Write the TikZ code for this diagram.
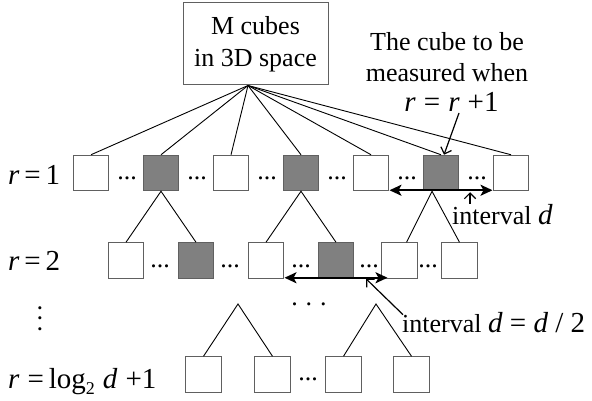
\documentclass[tikz,border=0pt]{standalone}
\usepackage{fontspec}
\setmainfont{Liberation Serif}
\usetikzlibrary{arrows.meta}
\definecolor{cubeedge}{HTML}{606060}
\definecolor{cubefill}{HTML}{808080}
\newcommand\txtsize{\fontsize{26}{31.5}\selectfont}
\newcommand\eqsize{\fontsize{29}{33}\selectfont}
\newcommand\mv[1]{\textit{#1}}
\tikzset{
  cube/.style={draw=cubeedge, fill=white, line width=1pt, minimum size=35.5pt, inner sep=0pt},
  cubedark/.style={cube, fill=cubefill},
  branch/.style={line width=0.9pt},
  intervalarrow/.style={line width=2.2pt, {Stealth[length=12pt,width=11pt,inset=3pt]}-{Stealth[length=12pt,width=11pt,inset=3pt]}},
  pointer/.style={line width=1.2pt, -{Straight Barb[angle=90:8pt]}},
  dotsgap/.style={font=\txtsize, inner sep=0pt, anchor=base},
  rowlabel/.style={font=\eqsize, inner sep=0pt, anchor=base west}
}
\begin{document}
\begin{tikzpicture}[x=1pt,y=-1pt]
\useasboundingbox (0,0) rectangle (592,401);
\node[draw=cubeedge, line width=1pt, minimum width=145pt, minimum height=82pt, align=center, font=\txtsize] (mbox) at (255.5,44) {M cubes\\in 3D space};
\node[font=\txtsize, align=center, anchor=north, inner sep=0pt] (note) at (447,32) {The cube to be\\measured when};
\node[font=\eqsize, inner sep=0pt, anchor=base] (noteeq) at (451.5,112) {\mv{r}\;=\;\mv{r}\;+1};
\coordinate (root) at ([xshift=-7.5pt]mbox.south);
\node[rowlabel] (r1) at (8,185) {\mv{r}\,=\,1};
\node[rowlabel] (r2) at (8,270) {\mv{r}\,=\,2};
\node[font=\txtsize, inner sep=0pt, rotate=90] (rdots) at (40,318.5) {.\hspace{4pt}.\hspace{4pt}.};
\node[rowlabel] (rn) at (8,388) {\mv{r}\;=\,log\raisebox{-6pt}{\fontsize{18}{18}\selectfont 2}\;\mv{d}\;+1};
\node[cube] (a1) at (91,173) {};
\node[cubedark] (a2) at (161,173) {};
\node[cube] (a3) at (231,173) {};
\node[cubedark] (a4) at (301,173) {};
\node[cube] (a5) at (371,173) {};
\node[cubedark] (a6) at (441,173) {};
\node[cube] (a7) at (511,173) {};
\node[dotsgap] (ad1) at (127,179) {...};
\node[dotsgap] (ad2) at (197,179) {...};
\node[dotsgap] (ad3) at (267,179) {...};
\node[dotsgap] (ad4) at (337,179) {...};
\node[dotsgap] (ad5) at (407,179) {...};
\node[dotsgap] (ad6) at (477,179) {...};
\node[cube] (b1) at (126,260.5) {};
\node[cubedark] (b2) at (196,260.5) {};
\node[cube] (b3) at (266,260.5) {};
\node[cubedark] (b4) at (336,260.5) {};
\node[cube] (b5) at (399.5,260.5) {};
\node[cube] (b6) at (459.5,260.5) {};
\node[dotsgap] (bd1) at (160,267) {...};
\node[dotsgap] (bd2) at (230,267) {...};
\node[dotsgap] (bd3) at (301,267) {...};
\node[dotsgap] (bd4) at (369,267) {...};
\node[dotsgap] (bd5) at (428,267) {...};
\node[dotsgap] (middots) at (309,305) {.\hspace{8pt}.\hspace{8pt}.};
\node[cube] (c1) at (203.5,374.5) {};
\node[cube] (c2) at (272.5,374.5) {};
\node[cube] (c3) at (343.5,374.5) {};
\node[cube] (c4) at (411.5,374.5) {};
\node[dotsgap] (cd1) at (308,380) {...};
\coordinate (apex1) at (238,304);
\coordinate (apex2) at (376,304);
\draw[branch] (root) -- (a1.north);
\draw[branch] (root) -- (a2.north);
\draw[branch] (root) -- (a3.north);
\draw[branch] (root) -- (a4.north);
\draw[branch] (root) -- (a5.north);
\draw[branch] (root) -- (a6.north);
\draw[branch] (root) -- (a7.north);
\draw[branch] (b1.north) -- (a2.south) -- (b2.north);
\draw[branch] (b3.north) -- (a4.south) -- (b4.north);
\draw[branch] ([xshift=7pt]b5.north) -- ([xshift=-9pt]a6.south) -- (b6.north);
\draw[branch] (c1.north) -- (apex1) -- (c2.north);
\draw[branch] (c3.north) -- (apex2) -- (c4.north);
\node[font=\txtsize, inner sep=0pt, anchor=base west] (lbld) at (452,224) {interval {\eqsize\mv{d}}};
\node[font=\txtsize, inner sep=0pt, anchor=base west] (lblhalf) at (402,332) {interval {\eqsize\mv{d} = \mv{d} / 2}};
\draw[intervalarrow] ([xshift=-51.5pt,yshift=1pt]a6.south) -- ([xshift=51.5pt,yshift=1pt]a6.south);
\draw[intervalarrow] ([xshift=-51.5pt,yshift=1pt]b4.south) -- ([xshift=51.5pt,yshift=1pt]b4.south);
\draw[pointer] ([xshift=7.5pt,yshift=-1pt]noteeq.base) -- ([xshift=3pt]a6.north);
\draw[pointer] ([xshift=18pt]lbld.north west) -- ([xshift=29pt,yshift=-1pt]a6.south);
\draw[pointer] ([xshift=1pt,yshift=-3pt]lblhalf.north west) -- ([xshift=30pt]b4.south);
\end{tikzpicture}
\end{document}
